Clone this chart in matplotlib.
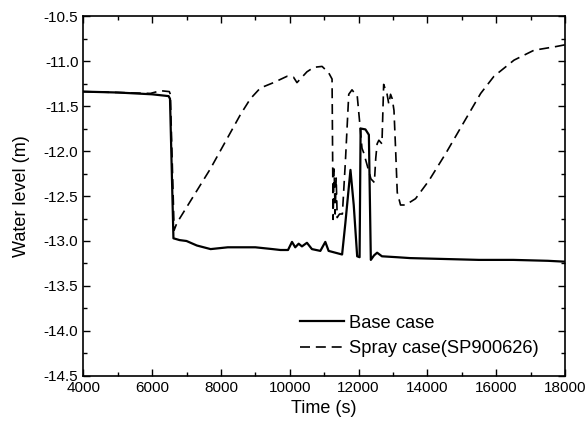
import matplotlib
matplotlib.use("Agg")
import matplotlib.pyplot as plt
from matplotlib.ticker import MultipleLocator

plt.rcParams['font.family'] = ['Liberation Sans', 'DejaVu Sans']

# base case (solid)
base_t = [4000, 5000, 6000, 6480, 6520, 6620, 6800, 7000, 7300, 7700, 8200,
          9000, 9500, 9730, 9950, 10066, 10160, 10260, 10355, 10500, 10645,
          10890, 11034, 11130, 11522, 11617, 11765, 11860, 11960, 12030,
          12060, 12200, 12300, 12357, 12450, 12540, 12680, 13110, 13500,
          14500, 15500, 16500, 17500, 18000]
base_y = [-11.34, -11.35, -11.37, -11.39, -11.42, -12.97, -12.99, -13.0,
          -13.05, -13.09, -13.07, -13.07, -13.09, -13.10, -13.10, -13.01,
          -13.07, -13.03, -13.06, -13.02, -13.09, -13.11, -13.01, -13.11,
          -13.15, -12.80, -12.21, -12.60, -13.17, -13.18, -11.75, -11.76,
          -11.82, -13.21, -13.16, -13.13, -13.17, -13.18, -13.19, -13.20,
          -13.21, -13.21, -13.22, -13.23]

# spray case (dashed)
spray_t = [4000, 5000, 5950, 6250, 6500, 6530, 6640, 6720, 7690, 8560, 8855,
           9145, 9530, 9920, 10110, 10210, 10500, 10700, 10940, 11130, 11230,
           11260, 11290, 11320, 11350, 11380, 11410, 11450, 11530, 11620,
           11715, 11810, 11910, 11960, 12030, 12100, 12150, 12360, 12460,
           12500, 12540, 12590, 12680, 12730, 12830, 12880, 12930, 12980,
           13030, 13080, 13125, 13220, 13365, 13656, 14044, 14530, 15016,
           15550, 15935, 16520, 17100, 17730, 18000]
spray_y = [-11.34, -11.35, -11.36, -11.33, -11.34, -11.37, -12.88, -12.80,
           -12.20, -11.60, -11.42, -11.30, -11.24, -11.17, -11.18, -11.24,
           -11.12, -11.07, -11.06, -11.13, -11.20, -12.76, -12.20, -12.70,
           -12.30, -12.74, -12.72, -12.70, -12.70, -12.10, -11.37, -11.32,
           -11.37, -11.38, -11.67, -11.97, -12.02, -12.31, -12.35, -12.08,
           -11.92, -11.88, -11.92, -11.26, -11.37, -11.48, -11.37, -11.42,
           -11.55, -12.01, -12.46, -12.60, -12.60, -12.53, -12.33, -12.03,
           -11.71, -11.36, -11.17, -10.99, -10.88, -10.84, -10.82]

fig = plt.figure(figsize=(5.87, 4.26), dpi=100)
ax = fig.add_axes([0.1419, 0.1174, 0.8206, 0.845])

ax.plot(base_t, base_y, color='black', lw=1.6, label='Base case')
ax.plot(spray_t, spray_y, color='black', lw=1.2, linestyle=(0, (6, 3.5)),
        label='Spray case(SP900626)')

ax.set_xlim(4000, 18000)
ax.set_ylim(-14.5, -10.5)
ax.xaxis.set_major_locator(MultipleLocator(2000))
ax.xaxis.set_minor_locator(MultipleLocator(1000))
ax.yaxis.set_major_locator(MultipleLocator(0.5))
ax.yaxis.set_minor_locator(MultipleLocator(0.25))
ax.yaxis.set_major_formatter(plt.FormatStrFormatter('%.1f'))
ax.tick_params(which='both', direction='in', top=True, right=True, labelsize=11)
ax.tick_params(which='major', length=5, width=1)
ax.tick_params(which='minor', length=3, width=1)
for s in ax.spines.values():
    s.set_linewidth(1.2)

ax.set_xlabel('Time (s)', fontsize=13, labelpad=4)
ax.set_ylabel('Water level (m)', fontsize=13, labelpad=10)

ax.legend(loc='upper left', bbox_to_anchor=(0.449, 0.17), frameon=False,
          fontsize=13.2, handlelength=2.4, handletextpad=0.3, labelspacing=0.45,
          borderpad=0, borderaxespad=0)

fig.savefig('out.png', dpi=100)
